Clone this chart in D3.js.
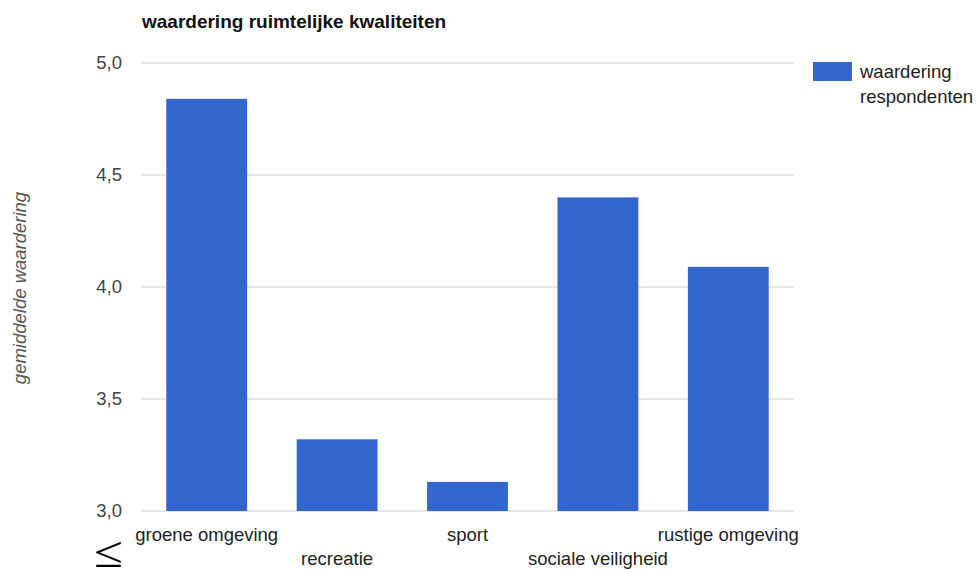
<!DOCTYPE html>
<html>
<head>
<meta charset="utf-8">
<script src="https://cdn.jsdelivr.net/npm/d3@7"></script>
<style>
  body { margin: 0; background: #fff; }
  text { font-family: "Liberation Sans", Arial, sans-serif; }
</style>
</head>
<body>
<svg id="chart"></svg>
<script>
const categories = ["groene omgeving", "recreatie", "sport", "sociale veiligheid", "rustige omgeving"];
const values = [4.84, 3.32, 3.13, 4.40, 4.09];
const yTicks = [3.0, 3.5, 4.0, 4.5, 5.0];
const seriesName = ["waardering", "respondenten"];

const width = 977;
const height = 572;

const svg = d3.select("#chart")
    .attr("width", width)
    .attr("height", height);

const x = d3.scaleBand()
    .domain(categories)
    .range([141.5, 793.5])
    .paddingInner(0.38)
    .paddingOuter(0.19);

const y = d3.scaleLinear().domain([3, 5]).range([511, 63]);

// Title
svg.append("text")
    .attr("x", 142)
    .attr("y", 28)
    .attr("font-size", 19)
    .attr("font-weight", "bold")
    .attr("fill", "#111")
    .text("waardering ruimtelijke kwaliteiten");

// Gridlines
svg.selectAll(".grid")
    .data(yTicks)
    .enter()
    .append("line")
    .attr("x1", 141)
    .attr("x2", 794)
    .attr("y1", d => y(d))
    .attr("y2", d => y(d))
    .attr("stroke", "#cccccc")
    .attr("stroke-width", 1);

// Y tick labels
svg.selectAll(".ytick")
    .data(yTicks)
    .enter()
    .append("text")
    .attr("x", 122)
    .attr("y", d => y(d) + 6)
    .attr("text-anchor", "end")
    .attr("font-size", 18.5)
    .attr("fill", "#444")
    .text(d => d3.format(".1f")(d).replace(".", ","));

// Bars
svg.selectAll(".bar")
    .data(values)
    .enter()
    .append("rect")
    .attr("x", (d, i) => x(categories[i]))
    .attr("width", x.bandwidth())
    .attr("y", d => y(d))
    .attr("height", d => y(3) - y(d))
    .attr("fill", "#3366cc");

// X labels, staggered over two rows
svg.selectAll(".xlabel")
    .data(categories)
    .enter()
    .append("text")
    .attr("x", d => x(d) + x.bandwidth() / 2)
    .attr("y", (d, i) => i % 2 === 0 ? 541 : 565)
    .attr("text-anchor", "middle")
    .attr("font-size", 18.5)
    .attr("fill", "#222")
    .text(d => d);

// Y axis title
svg.append("text")
    .attr("transform", "translate(26,288) rotate(-90)")
    .attr("text-anchor", "middle")
    .attr("font-size", 18.5)
    .attr("font-style", "italic")
    .attr("fill", "#555")
    .text("gemiddelde waardering");

// Legend
svg.append("rect")
    .attr("x", 813)
    .attr("y", 62)
    .attr("width", 39)
    .attr("height", 19)
    .attr("fill", "#3366cc");

svg.selectAll(".legend-text")
    .data(seriesName)
    .enter()
    .append("text")
    .attr("x", 860)
    .attr("y", (d, i) => 78 + i * 25)
    .attr("font-size", 18.5)
    .attr("fill", "#222")
    .text(d => d);

// Stray symbol bottom-left
svg.append("text")
    .attr("transform", "translate(94,567) scale(1.2,1)")
    .attr("font-size", 44)
    .style("font-family", "'Liberation Serif', serif")
    .attr("fill", "#000")
    .text("≤");
</script>
</body>
</html>
